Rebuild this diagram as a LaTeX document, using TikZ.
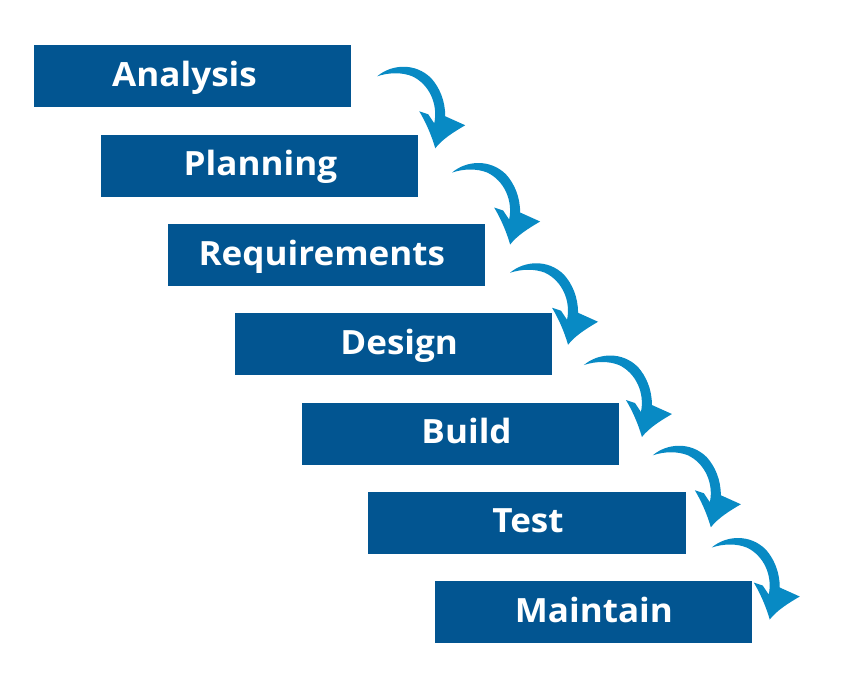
\documentclass[tikz,border=0pt]{standalone}
\usepackage{fontspec}
\newfontfamily\stagefont[FakeStretch=1.05]{Open Sans}
\usepackage{tikz}
\usetikzlibrary{calc}
\definecolor{stageblue}{RGB}{2,85,145}
\definecolor{arrowblue}{RGB}{8,138,196}

\begin{document}
\begin{tikzpicture}[x=0.03cm,y=-0.03cm,
    stage/.style={fill=stageblue,text=white,minimum width=9.51cm,minimum height=1.86cm,
        inner sep=0pt,text height=0.7cm,text depth=0.09cm,
        font=\stagefont\bfseries\fontsize{28.5}{34}\selectfont},
    bendarrow/.pic={
        \fill[arrowblue] (0,0) .. controls (14,-12) and (38,-14) .. (54,2)
            .. controls (62,11) and (68,24) .. (68,40) -- (88,49)
            .. controls (76,56) and (65,63) .. (58,72)
            .. controls (54,58) and (48,45) .. (42,35) -- (51,38) -- (57,47)
            .. controls (61,28) and (52,8) .. (35,0)
            .. controls (25,-4) and (12,-4) .. cycle;
    }]
    \useasboundingbox (0,0) rectangle (846,684);
    % the seven stages, one step down and to the right each
    \foreach \txt/\dx [count=\i] in {Analysis/-8,Planning/1,Requirements/-4.5,Design/6,Build/6.5,Test/1,Maintain/0}
        \node[stage] (s\i) at (192.5+66.9*\i-66.9,76.5+89.25*\i-89.25)
            {\hspace*{\dimexpr\dx pt*17/10\relax}\txt};
    % curved arrows between the stages
    \foreach \i/\dx/\dy in {1/26/31,2/34/38,3/25/49,4/32/52,5/34/53,6/26/56}
        \pic at ($(s\i.north east)+(\dx,\dy)$) {bendarrow};
\end{tikzpicture}
\end{document}
